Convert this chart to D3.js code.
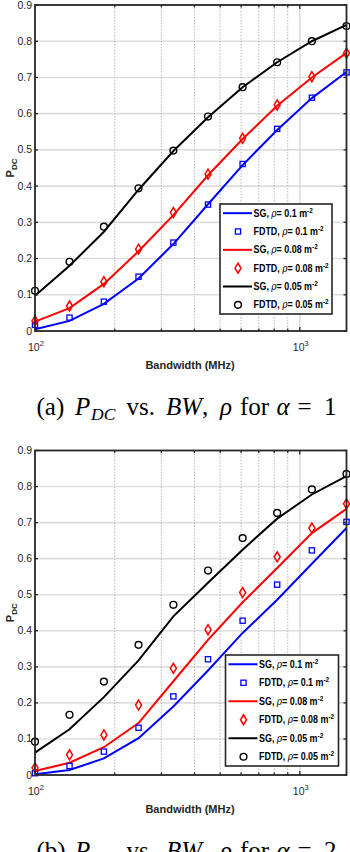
<!DOCTYPE html>
<html>
<head>
<meta charset="utf-8">
<script src="https://cdn.jsdelivr.net/npm/d3@7"></script>
<style>
  body { margin: 0; background: #fff; }
  svg { display: block; }
  .tick-label { font-family: "Liberation Sans Narrow", "Liberation Sans", Arial, sans-serif; fill: #262626; }
  .leg { font-family: "Liberation Sans", Arial, sans-serif; font-weight: bold; fill: #000; }
  .cap { font-family: "Liberation Serif", "Times New Roman", serif; fill: #000; }
</style>
</head>
<body>
<script>
// bandwidth samples (MHz)
var bandwidth = [100, 135, 182, 246, 333, 450, 608, 821, 1110, 1500];
var yTicks = [0, 0.1, 0.2, 0.3, 0.4, 0.5, 0.6, 0.7, 0.8, 0.9];
var rhoLabels = ["0.1", "0.08", "0.05"];
var seriesColors = ["#0000ff", "#ff0000", "#000000"];

// (a) alpha = 1
var sgA_rho01   = [0.005, 0.028, 0.075, 0.145, 0.240, 0.350, 0.458, 0.555, 0.643, 0.715];
var fdtdA_rho01 = [0.017, 0.037, 0.081, 0.150, 0.244, 0.349, 0.461, 0.558, 0.644, 0.714];
var sgA_rho008   = [0.026, 0.063, 0.130, 0.220, 0.320, 0.430, 0.530, 0.622, 0.700, 0.768];
var fdtdA_rho008 = [0.028, 0.069, 0.136, 0.226, 0.327, 0.433, 0.532, 0.624, 0.702, 0.767];
var sgA_rho005   = [0.097, 0.180, 0.274, 0.390, 0.497, 0.590, 0.673, 0.742, 0.800, 0.845];
var fdtdA_rho005 = [0.111, 0.191, 0.288, 0.394, 0.498, 0.592, 0.673, 0.742, 0.800, 0.842];

// (b) alpha = 2
var sgB_rho01   = [0.002, 0.014, 0.046, 0.102, 0.190, 0.290, 0.394, 0.486, 0.586, 0.685];
var fdtdB_rho01 = [0.005, 0.025, 0.065, 0.131, 0.218, 0.321, 0.428, 0.528, 0.623, 0.702];
var sgB_rho008   = [0.011, 0.034, 0.077, 0.144, 0.260, 0.375, 0.479, 0.574, 0.671, 0.738];
var fdtdB_rho008 = [0.020, 0.056, 0.111, 0.194, 0.296, 0.403, 0.506, 0.605, 0.685, 0.752];
var sgB_rho005   = [0.062, 0.127, 0.216, 0.318, 0.440, 0.533, 0.625, 0.711, 0.778, 0.829];
var fdtdB_rho005 = [0.0925, 0.167, 0.259, 0.361, 0.472, 0.567, 0.657, 0.727, 0.792, 0.835];

var svg = d3.select("body").append("svg").attr("width", 350).attr("height", 852);

function drawPanel(top, bottom, sg, fdtd, legendBox, capLetter, capAlpha) {
  var left = 35, right = 346.5;
  var x = d3.scaleLog().domain([100, 1500]).range([left, right]);
  var y = d3.scaleLinear().domain([0, 0.9]).range([bottom, top]);
  var g = svg.append("g");

  //grid
  var minor = [200, 300, 400, 500, 600, 700, 800, 900];
  g.selectAll(".hg").data(yTicks.slice(1, -1)).enter().append("line")
    .attr("x1", left).attr("x2", right).attr("y1", y).attr("y2", y)
    .attr("stroke", "#dedede").attr("stroke-width", 1.6);
  g.selectAll(".vg").data(minor).enter().append("line")
    .attr("x1", x).attr("x2", x).attr("y1", top).attr("y2", bottom)
    .attr("stroke", "#b8b8b8").attr("stroke-width", 1).attr("stroke-dasharray", "1.5,1.5");
  g.append("line").attr("x1", x(1000)).attr("x2", x(1000)).attr("y1", top).attr("y2", bottom)
    .attr("stroke", "#dedede").attr("stroke-width", 1.6);

  var line = d3.line().x(function(d, i){ return x(bandwidth[i]); }).y(function(d){ return y(d); });

  sg.forEach(function(s, k){
    g.append("path").attr("d", line(s)).attr("fill", "none")
      .attr("stroke", seriesColors[k]).attr("stroke-width", 2);
  });

  // markers
  fdtd.forEach(function(s, k){
    s.forEach(function(v, i){
      drawMarker(g, k, x(bandwidth[i]), y(v));
    });
  });

  // ticks (inward) on all sides
  var tk = g.append("g").attr("stroke", "#262626").attr("stroke-width", 1.3);
  yTicks.forEach(function(t){
    tk.append("line").attr("x1", left).attr("x2", left + 3).attr("y1", y(t)).attr("y2", y(t));
    tk.append("line").attr("x1", right).attr("x2", right - 3).attr("y1", y(t)).attr("y2", y(t));
  });
  minor.concat([1000]).forEach(function(t){
    var len = t === 1000 ? 4 : 2.5;
    tk.append("line").attr("x1", x(t)).attr("x2", x(t)).attr("y1", top).attr("y2", top + len);
    tk.append("line").attr("x1", x(t)).attr("x2", x(t)).attr("y1", bottom).attr("y2", bottom - len);
  });

  // box
  g.append("rect").attr("x", left).attr("y", top).attr("width", right - left).attr("height", bottom - top)
    .attr("fill", "none").attr("stroke", "#262626").attr("stroke-width", 1.8);

  // y tick labels
  g.selectAll(".yl").data(yTicks).enter().append("text").attr("class", "tick-label")
    .attr("x", left - 3).attr("y", function(d){ return y(d) + 3.5; })
    .attr("text-anchor", "end").attr("font-size", 10.5)
    .text(function(d){ return d === 0 ? "0" : d3.format(".1f")(d); });

  // x tick labels
  [[100, "2"], [1000, "3"]].forEach(function(p){
    var t = g.append("text").attr("class", "tick-label").attr("font-size", 10.5)
      .attr("x", x(p[0]) - 7).attr("y", bottom + 20);
    t.append("tspan").text("10");
    t.append("tspan").attr("dy", -5).attr("font-size", 7.5).text(p[1]);
  });

  // axis labels
  g.append("text").attr("class", "tick-label").attr("font-size", 11).attr("font-weight", "bold")
    .attr("text-anchor", "middle").attr("x", 190).attr("y", bottom + 38)
    .text("Bandwidth (MHz)");
  var yl = g.append("text").attr("class", "tick-label").attr("font-size", 11).attr("font-weight", "bold")
    .attr("text-anchor", "middle")
    .attr("transform", "translate(" + 14 + "," + ((top + bottom) / 2) + ") rotate(-90)");
  yl.append("tspan").text("P");
  yl.append("tspan").attr("dy", 3).attr("font-size", 8).text("DC");

  // legend
  var lg = g.append("g");
  lg.append("rect").attr("x", legendBox.x).attr("y", legendBox.y).attr("width", legendBox.w).attr("height", legendBox.h)
    .attr("fill", "#fff").attr("stroke", "#262626").attr("stroke-width", 1.6);
  var rowH = legendBox.h / 6;
  rhoLabels.forEach(function(r, k){
    var y1 = legendBox.y + rowH * (2 * k + 0.5);
    var y2 = legendBox.y + rowH * (2 * k + 1.5);
    lg.append("line").attr("x1", legendBox.x + 3).attr("x2", legendBox.x + 32).attr("y1", y1).attr("y2", y1)
      .attr("stroke", seriesColors[k]).attr("stroke-width", 2);
    drawMarker(lg, k, legendBox.x + 18, y2);
    legendText(lg, "SG", r, legendBox.x + 33.5, y1 + 3.5);
    legendText(lg, "FDTD", r, legendBox.x + 33.5, y2 + 3.5);
  });

  // caption, pieces placed like the LaTeX layout
  var capY = bottom + 84;
  var c = svg.append("text").attr("class", "cap").attr("font-size", 25).attr("y", capY);
  c.append("tspan").attr("x", 36.5).text("(" + capLetter + ")");
  c.append("tspan").attr("x", 75).attr("font-style", "italic").text("P");
  c.append("tspan").attr("x", 91).attr("dy", 5).attr("font-style", "italic").attr("font-size", 17.5).text("DC");
  c.append("tspan").attr("x", 126.5).attr("dy", -5).text("vs.");
  c.append("tspan").attr("x", 166).attr("font-style", "italic").text("BW");
  c.append("tspan").text(",");
  c.append("tspan").attr("x", 220).attr("font-style", "italic").text("\u03c1");
  c.append("tspan").attr("x", 240).text("for");
  c.append("tspan").attr("x", 276.5).attr("font-style", "italic").text("\u03b1");
  c.append("tspan").attr("x", 297.5).text("=");
  c.append("tspan").attr("x", 324).text(capAlpha);
}

function legendText(lg, name, r, tx, ty) {
  var t = lg.append("text").attr("class", "leg").attr("font-size", 10.5)
    .attr("transform", "translate(" + tx + "," + ty + ") scale(0.85,1)");
  t.append("tspan").text(name + ", ");
  t.append("tspan").attr("font-style", "italic").attr("font-weight", "normal").attr("font-family", "DejaVu Serif").text("\u03c1");
  t.append("tspan").text("= " + r + " m");
  t.append("tspan").attr("dy", -4).attr("font-size", 7.5).text("-2");
}

function drawMarker(g, k, cx, cy) {
  if (k === 0) {
    g.append("rect").attr("x", cx - 2.6).attr("y", cy - 2.6).attr("width", 5.2).attr("height", 5.2)
      .attr("fill", "none").attr("stroke", seriesColors[0]).attr("stroke-width", 1.3);
  } else if (k === 1) {
    g.append("path").attr("d", "M" + cx + "," + (cy - 5) + "L" + (cx + 3) + "," + cy + "L" + cx + "," + (cy + 5) + "L" + (cx - 3) + "," + cy + "Z")
      .attr("fill", "none").attr("stroke", seriesColors[1]).attr("stroke-width", 1.5);
  } else {
    g.append("circle").attr("cx", cx).attr("cy", cy).attr("r", 3.4)
      .attr("fill", "none").attr("stroke", seriesColors[2]).attr("stroke-width", 1.4);
  }
}

drawPanel(5, 331, [sgA_rho01, sgA_rho008, sgA_rho005], [fdtdA_rho01, fdtdA_rho008, fdtdA_rho005],
  {x: 220, y: 204, w: 112, h: 110}, "a", "1");
drawPanel(450.5, 775, [sgB_rho01, sgB_rho008, sgB_rho005], [fdtdB_rho01, fdtdB_rho008, fdtdB_rho005],
  {x: 225.5, y: 655, w: 113, h: 111}, "b", "2");
</script>
</body>
</html>
